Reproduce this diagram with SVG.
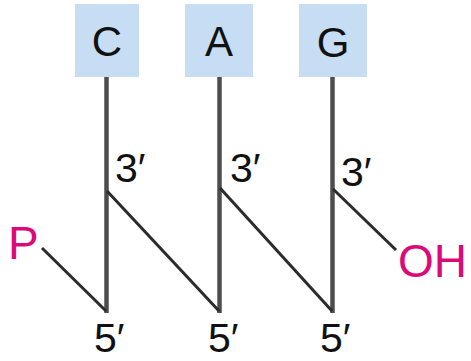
<svg xmlns="http://www.w3.org/2000/svg" width="471" height="361" viewBox="0 0 471 361">
<style>
.box{fill:#c6ddf3}
.base{font-family:"Liberation Sans",Arial,sans-serif;font-size:42px;fill:#111;text-anchor:middle}
.lbl{font-family:"Liberation Sans",Arial,sans-serif;font-size:41px;fill:#111}
.end{font-family:"Liberation Sans",Arial,sans-serif;font-size:46px;fill:#dc0a78}
.strand{stroke:#4d4d4d;stroke-width:4.5;fill:none}
.link{stroke:#2b2b2b;stroke-width:3;fill:none}
</style>
<rect width="471" height="361" fill="#fff"/>
<g id="node-C">
<rect class="box" x="75" y="4" width="64" height="73"/>
<text class="base" x="107" y="56">C</text>
</g>
<g id="node-A">
<rect class="box" x="185" y="4" width="68" height="73"/>
<text class="base" x="219" y="56">A</text>
</g>
<g id="node-G">
<rect class="box" x="299" y="4" width="68" height="73"/>
<text class="base" x="333" y="57">G</text>
</g>
<g id="connectors">
<line class="strand" x1="106.5" y1="77" x2="106.5" y2="313"/>
<line class="strand" x1="219.5" y1="77" x2="219.5" y2="313"/>
<line class="strand" x1="332.5" y1="77" x2="332.5" y2="313"/>
<line class="link" x1="42" y1="248" x2="106" y2="311"/>
<line class="link" x1="107" y1="191" x2="219" y2="311"/>
<line class="link" x1="220" y1="188" x2="332" y2="311"/>
<line class="link" x1="333" y1="189" x2="396" y2="250"/>
</g>
<g id="labels">
<text class="lbl" x="115" y="182">3′</text>
<text class="lbl" x="230" y="182">3′</text>
<text class="lbl" x="341" y="186">3′</text>
<text class="lbl" x="94" y="352">5′</text>
<text class="lbl" x="208" y="352">5′</text>
<text class="lbl" x="320" y="352">5′</text>
<text class="end" x="8" y="259">P</text>
<text class="end" x="398" y="277">OH</text>
</g>
</svg>
